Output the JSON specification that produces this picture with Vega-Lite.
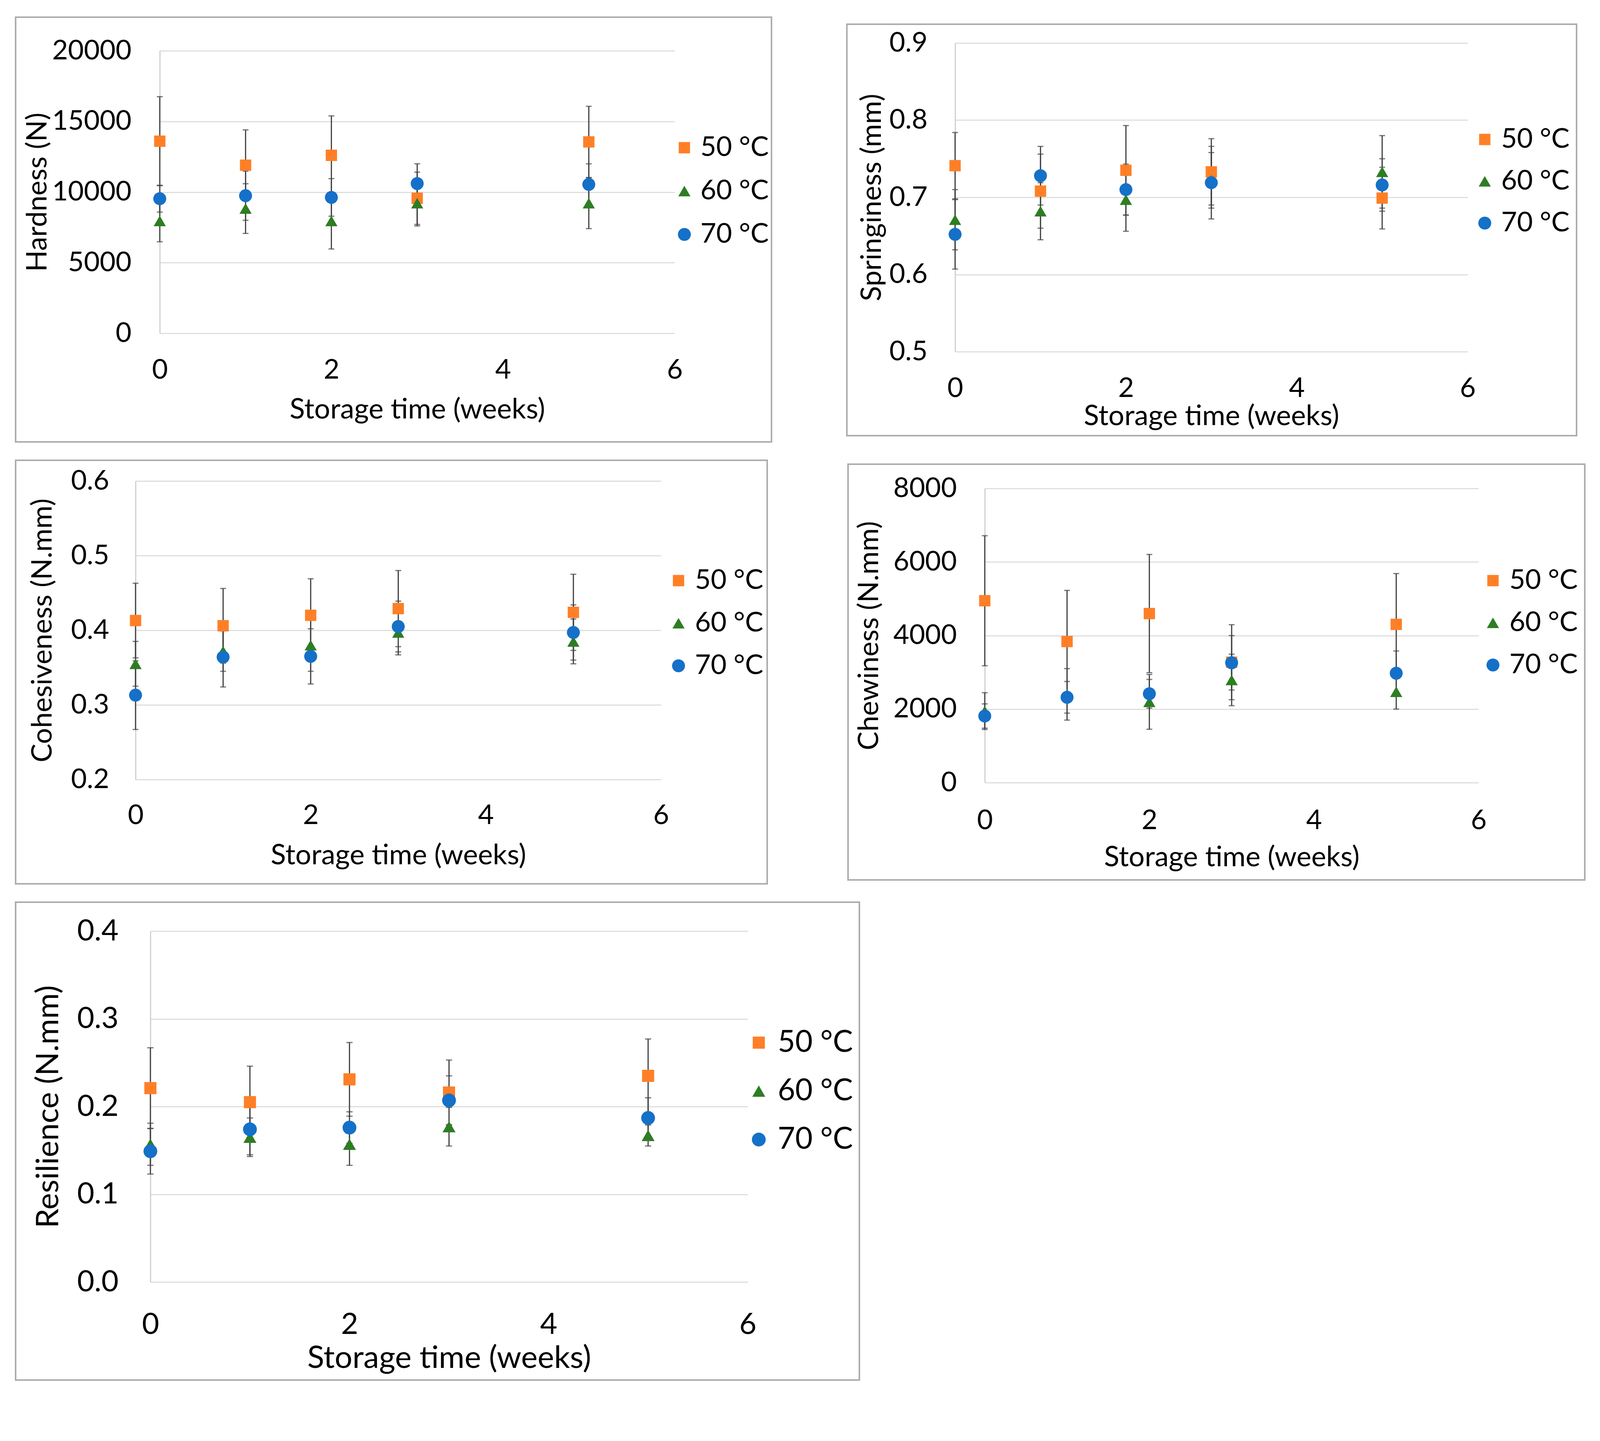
{
  "$schema": "https://vega.github.io/schema/vega-lite/v6.json",
  "background": "white",
  "padding": {"left": 38, "top": 42, "right": 0, "bottom": 0},
  "datasets": {
    "d": [
      {"panel": "H", "week": 0, "temp": "50 °C", "value": 13600, "err": 3150},
      {"panel": "H", "week": 1, "temp": "50 °C", "value": 11900, "err": 2500},
      {"panel": "H", "week": 2, "temp": "50 °C", "value": 12600, "err": 2790},
      {"panel": "H", "week": 3, "temp": "50 °C", "value": 9560, "err": 1850},
      {"panel": "H", "week": 5, "temp": "50 °C", "value": 13550, "err": 2520},
      {"panel": "H", "week": 0, "temp": "60 °C", "value": 7950, "err": 1470},
      {"panel": "H", "week": 1, "temp": "60 °C", "value": 8830, "err": 1760},
      {"panel": "H", "week": 2, "temp": "60 °C", "value": 7950, "err": 1980},
      {"panel": "H", "week": 3, "temp": "60 °C", "value": 9210, "err": 1610},
      {"panel": "H", "week": 5, "temp": "60 °C", "value": 9210, "err": 1800},
      {"panel": "H", "week": 0, "temp": "70 °C", "value": 9530, "err": 950},
      {"panel": "H", "week": 1, "temp": "70 °C", "value": 9740, "err": 1740},
      {"panel": "H", "week": 2, "temp": "70 °C", "value": 9620, "err": 1330},
      {"panel": "H", "week": 3, "temp": "70 °C", "value": 10600, "err": 1400},
      {"panel": "H", "week": 5, "temp": "70 °C", "value": 10540, "err": 1460},

      {"panel": "S", "week": 0, "temp": "50 °C", "value": 0.741, "err": 0.043},
      {"panel": "S", "week": 1, "temp": "50 °C", "value": 0.708, "err": 0.048},
      {"panel": "S", "week": 2, "temp": "50 °C", "value": 0.735, "err": 0.058},
      {"panel": "S", "week": 3, "temp": "50 °C", "value": 0.733, "err": 0.043},
      {"panel": "S", "week": 5, "temp": "50 °C", "value": 0.699, "err": 0.040},
      {"panel": "S", "week": 0, "temp": "60 °C", "value": 0.671, "err": 0.039},
      {"panel": "S", "week": 1, "temp": "60 °C", "value": 0.682, "err": 0.037},
      {"panel": "S", "week": 2, "temp": "60 °C", "value": 0.697, "err": 0.041},
      {"panel": "S", "week": 3, "temp": "60 °C", "value": 0.722, "err": 0.036},
      {"panel": "S", "week": 5, "temp": "60 °C", "value": 0.733, "err": 0.047},
      {"panel": "S", "week": 0, "temp": "70 °C", "value": 0.652, "err": 0.045},
      {"panel": "S", "week": 1, "temp": "70 °C", "value": 0.728, "err": 0.038},
      {"panel": "S", "week": 2, "temp": "70 °C", "value": 0.710, "err": 0.033},
      {"panel": "S", "week": 3, "temp": "70 °C", "value": 0.719, "err": 0.047},
      {"panel": "S", "week": 5, "temp": "70 °C", "value": 0.716, "err": 0.034},

      {"panel": "C", "week": 0, "temp": "50 °C", "value": 0.413, "err": 0.050},
      {"panel": "C", "week": 1, "temp": "50 °C", "value": 0.406, "err": 0.050},
      {"panel": "C", "week": 2, "temp": "50 °C", "value": 0.420, "err": 0.049},
      {"panel": "C", "week": 3, "temp": "50 °C", "value": 0.429, "err": 0.051},
      {"panel": "C", "week": 5, "temp": "50 °C", "value": 0.424, "err": 0.051},
      {"panel": "C", "week": 0, "temp": "60 °C", "value": 0.355, "err": 0.030},
      {"panel": "C", "week": 1, "temp": "60 °C", "value": 0.372, "err": 0.027},
      {"panel": "C", "week": 2, "temp": "60 °C", "value": 0.380, "err": 0.035},
      {"panel": "C", "week": 3, "temp": "60 °C", "value": 0.397, "err": 0.030},
      {"panel": "C", "week": 5, "temp": "60 °C", "value": 0.385, "err": 0.030},
      {"panel": "C", "week": 0, "temp": "70 °C", "value": 0.313, "err": 0.046},
      {"panel": "C", "week": 1, "temp": "70 °C", "value": 0.364, "err": 0.040},
      {"panel": "C", "week": 2, "temp": "70 °C", "value": 0.365, "err": 0.037},
      {"panel": "C", "week": 3, "temp": "70 °C", "value": 0.405, "err": 0.034},
      {"panel": "C", "week": 5, "temp": "70 °C", "value": 0.397, "err": 0.037},

      {"panel": "W", "week": 0, "temp": "50 °C", "value": 4946, "err": 1768},
      {"panel": "W", "week": 1, "temp": "50 °C", "value": 3837, "err": 1390},
      {"panel": "W", "week": 2, "temp": "50 °C", "value": 4597, "err": 1607},
      {"panel": "W", "week": 3, "temp": "50 °C", "value": 3274, "err": 1020},
      {"panel": "W", "week": 5, "temp": "50 °C", "value": 4303, "err": 1382},
      {"panel": "W", "week": 0, "temp": "60 °C", "value": 1945, "err": 500},
      {"panel": "W", "week": 1, "temp": "60 °C", "value": 2400, "err": 700},
      {"panel": "W", "week": 2, "temp": "60 °C", "value": 2197, "err": 745},
      {"panel": "W", "week": 3, "temp": "60 °C", "value": 2792, "err": 700},
      {"panel": "W", "week": 5, "temp": "60 °C", "value": 2470, "err": 470},
      {"panel": "W", "week": 0, "temp": "70 °C", "value": 1811, "err": 330},
      {"panel": "W", "week": 1, "temp": "70 °C", "value": 2320, "err": 430},
      {"panel": "W", "week": 2, "temp": "70 °C", "value": 2416, "err": 390},
      {"panel": "W", "week": 3, "temp": "70 °C", "value": 3258, "err": 740},
      {"panel": "W", "week": 5, "temp": "70 °C", "value": 2974, "err": 605},

      {"panel": "R", "week": 0, "temp": "50 °C", "value": 0.221, "err": 0.046},
      {"panel": "R", "week": 1, "temp": "50 °C", "value": 0.205, "err": 0.041},
      {"panel": "R", "week": 2, "temp": "50 °C", "value": 0.231, "err": 0.042},
      {"panel": "R", "week": 3, "temp": "50 °C", "value": 0.216, "err": 0.037},
      {"panel": "R", "week": 5, "temp": "50 °C", "value": 0.235, "err": 0.042},
      {"panel": "R", "week": 0, "temp": "60 °C", "value": 0.157, "err": 0.024},
      {"panel": "R", "week": 1, "temp": "60 °C", "value": 0.165, "err": 0.022},
      {"panel": "R", "week": 2, "temp": "60 °C", "value": 0.157, "err": 0.024},
      {"panel": "R", "week": 3, "temp": "60 °C", "value": 0.177, "err": 0.022},
      {"panel": "R", "week": 5, "temp": "60 °C", "value": 0.167, "err": 0.012},
      {"panel": "R", "week": 0, "temp": "70 °C", "value": 0.149, "err": 0.026},
      {"panel": "R", "week": 1, "temp": "70 °C", "value": 0.174, "err": 0.029},
      {"panel": "R", "week": 2, "temp": "70 °C", "value": 0.176, "err": 0.018},
      {"panel": "R", "week": 3, "temp": "70 °C", "value": 0.207, "err": 0.028},
      {"panel": "R", "week": 5, "temp": "70 °C", "value": 0.187, "err": 0.023}
    ],
    "weeksGrid": [{"g": 0}, {"g": 2}, {"g": 4}, {"g": 6}]
  },
  "bounds": "full",
  "spacing": 43,
  "resolve": {"scale": {"color": "independent", "shape": "independent", "size": "independent"}, "legend": {"color": "independent", "shape": "independent", "size": "independent"}},
  "vconcat": [
    {
      "bounds": "flush",
      "spacing": 193,
      "resolve": {"scale": {"color": "independent", "shape": "independent", "size": "independent"}, "legend": {"color": "independent", "shape": "independent", "size": "independent"}},
      "hconcat": [
        {
          "width": 1935, "height": 1087,
          "encoding": {
            "x": {"field": "week", "type": "quantitative",
              "scale": {"domain": [0, 6], "range": [369, 1687], "nice": false, "zero": false},
              "axis": {"title": "Storage time (weeks)", "values": [0, 2, 4, 6], "grid": false, "domain": false, "labelPadding": -218, "titleY": -61, "titleBaseline": "alphabetic"}},
            "y": {"field": "value", "type": "quantitative",
              "scale": {"domain": [0, 20000], "range": [809, 86], "nice": false, "zero": false},
              "axis": {"title": "Hardness (N)", "values": [0, 5000, 10000, 15000, 20000], "format": "d", "offset": -369, "labelPadding": 73, "titleX": -291, "titleBaseline": "alphabetic"}}
          },
          "layer": [
            {"data": {"name": "weeksGrid"}, "mark": {"type": "rule", "color": "#D9D9D9", "strokeWidth": 2.5},
              "encoding": {
                "x": {"field": "g", "type": "quantitative", "scale": {"domain": [0, 6], "range": [369, 1687], "nice": false, "zero": false}},
                "y": {"datum": 0, "type": "quantitative", "scale": {"domain": [0, 20000], "range": [809, 86], "nice": false, "zero": false}},
                "y2": {"datum": 20000}}},
            {"data": {"name": "d"}, "transform": [{"filter": "datum.panel === 'H'"}],
              "mark": {"type": "errorbar", "ticks": {"size": 15}, "thickness": 3, "color": "#404040"}, "encoding": {"yError": {"field": "err"}}},
            {"data": {"name": "d"}, "transform": [{"filter": "datum.panel === 'H'"}],
              "mark": {"type": "point", "filled": true, "opacity": 1},
              "encoding": {
                "color": {"field": "temp", "type": "nominal", "scale": {"domain": ["50 °C", "60 °C", "70 °C"], "range": ["#FF7F27", "#2E7D23", "#1570C8"]},
                  "legend": {"title": null, "orient": "none", "legendX": 1677, "legendY": 299, "labelFontSize": 70, "rowPadding": 41, "labelOffset": 6, "padding": 0}},
                "shape": {"field": "temp", "type": "nominal", "scale": {"domain": ["50 °C", "60 °C", "70 °C"], "range": ["square", "triangle-up", "circle"]},
                  "legend": {"title": null, "orient": "none", "legendX": 1677, "legendY": 299, "labelFontSize": 70, "rowPadding": 41, "labelOffset": 6, "padding": 0}},
                "size": {"field": "temp", "type": "nominal", "scale": {"domain": ["50 °C", "60 °C", "70 °C"], "range": [841, 1100, 900]},
                  "legend": {"title": null, "orient": "none", "legendX": 1677, "legendY": 299, "labelFontSize": 70, "rowPadding": 41, "labelOffset": 6, "padding": 0}}
              }}
          ]
        },
        {
          "bounds": "flush",
          "spacing": 0,
          "resolve": {"scale": {"color": "independent", "shape": "independent", "size": "independent"}, "legend": {"color": "independent", "shape": "independent", "size": "independent"}},
          "vconcat": [
            {"width": 1868, "height": 18, "data": {"values": []}, "mark": {"type": "point", "opacity": 0}, "view": {"stroke": null}},
            {
              "width": 1868, "height": 1053,
              "encoding": {
                "x": {"field": "week", "type": "quantitative",
                  "scale": {"domain": [0, 6], "range": [277, 1589], "nice": false, "zero": false},
                  "axis": {"title": "Storage time (weeks)", "values": [0, 2, 4, 6], "grid": false, "domain": false, "labelPadding": -155, "titleY": -28, "titleBaseline": "alphabetic"}},
                "y": {"field": "value", "type": "quantitative",
                  "scale": {"domain": [0.5, 0.9], "range": [838, 48], "nice": false, "zero": false},
                  "axis": {"title": "Springiness (mm)", "values": [0.5, 0.6, 0.7, 0.8, 0.9], "format": ".1f", "offset": -277, "labelPadding": 71, "titleX": -191, "titleBaseline": "alphabetic"}}
              },
              "layer": [
                {"data": {"name": "weeksGrid"}, "mark": {"type": "rule", "color": "#D9D9D9", "strokeWidth": 2.5},
                  "encoding": {
                    "x": {"field": "g", "type": "quantitative", "scale": {"domain": [0, 6], "range": [277, 1589], "nice": false, "zero": false}},
                    "y": {"datum": 0.5, "type": "quantitative", "scale": {"domain": [0.5, 0.9], "range": [838, 48], "nice": false, "zero": false}},
                    "y2": {"datum": 0.9}}},
                {"data": {"name": "d"}, "transform": [{"filter": "datum.panel === 'S'"}],
                  "mark": {"type": "errorbar", "ticks": {"size": 15}, "thickness": 3, "color": "#404040"}, "encoding": {"yError": {"field": "err"}}},
                {"data": {"name": "d"}, "transform": [{"filter": "datum.panel === 'S'"}],
                  "mark": {"type": "point", "filled": true, "opacity": 1},
                  "encoding": {
                    "color": {"field": "temp", "type": "nominal", "scale": {"domain": ["50 °C", "60 °C", "70 °C"], "range": ["#FF7F27", "#2E7D23", "#1570C8"]},
                      "legend": {"title": null, "orient": "none", "legendX": 1598, "legendY": 260, "labelFontSize": 70, "rowPadding": 37, "labelOffset": 7, "padding": 0}},
                    "shape": {"field": "temp", "type": "nominal", "scale": {"domain": ["50 °C", "60 °C", "70 °C"], "range": ["square", "triangle-up", "circle"]},
                      "legend": {"title": null, "orient": "none", "legendX": 1598, "legendY": 260, "labelFontSize": 70, "rowPadding": 37, "labelOffset": 7, "padding": 0}},
                    "size": {"field": "temp", "type": "nominal", "scale": {"domain": ["50 °C", "60 °C", "70 °C"], "range": [841, 1100, 900]},
                      "legend": {"title": null, "orient": "none", "legendX": 1598, "legendY": 260, "labelFontSize": 70, "rowPadding": 37, "labelOffset": 7, "padding": 0}}
                  }}
              ]
            }
          ]
        }
      ]
    },
    {
      "bounds": "flush",
      "spacing": 207,
      "resolve": {"scale": {"color": "independent", "shape": "independent", "size": "independent"}, "legend": {"color": "independent", "shape": "independent", "size": "independent"}},
      "hconcat": [
        {
          "width": 1924, "height": 1084,
          "encoding": {
            "x": {"field": "week", "type": "quantitative",
              "scale": {"domain": [0, 6], "range": [307, 1652], "nice": false, "zero": false},
              "axis": {"title": "Storage time (weeks)", "values": [0, 2, 4, 6], "grid": false, "domain": false, "labelPadding": -209, "titleY": -51, "titleBaseline": "alphabetic"}},
            "y": {"field": "value", "type": "quantitative",
              "scale": {"domain": [0.2, 0.6], "range": [817, 53], "nice": false, "zero": false},
              "axis": {"title": "Cohesiveness (N.mm)", "values": [0.2, 0.3, 0.4, 0.5, 0.6], "format": ".1f", "offset": -307, "labelPadding": 68, "titleX": -216, "titleBaseline": "alphabetic"}}
          },
          "layer": [
            {"data": {"name": "weeksGrid"}, "mark": {"type": "rule", "color": "#D9D9D9", "strokeWidth": 2.5},
              "encoding": {
                "x": {"field": "g", "type": "quantitative", "scale": {"domain": [0, 6], "range": [307, 1652], "nice": false, "zero": false}},
                "y": {"datum": 0.2, "type": "quantitative", "scale": {"domain": [0.2, 0.6], "range": [817, 53], "nice": false, "zero": false}},
                "y2": {"datum": 0.6}}},
            {"data": {"name": "d"}, "transform": [{"filter": "datum.panel === 'C'"}],
              "mark": {"type": "errorbar", "ticks": {"size": 15}, "thickness": 3, "color": "#404040"}, "encoding": {"yError": {"field": "err"}}},
            {"data": {"name": "d"}, "transform": [{"filter": "datum.panel === 'C'"}],
              "mark": {"type": "point", "filled": true, "opacity": 1},
              "encoding": {
                "color": {"field": "temp", "type": "nominal", "scale": {"domain": ["50 °C", "60 °C", "70 °C"], "range": ["#FF7F27", "#2E7D23", "#1570C8"]},
                  "legend": {"title": null, "orient": "none", "legendX": 1662, "legendY": 273, "labelFontSize": 70, "rowPadding": 39, "labelOffset": 7, "padding": 0}},
                "shape": {"field": "temp", "type": "nominal", "scale": {"domain": ["50 °C", "60 °C", "70 °C"], "range": ["square", "triangle-up", "circle"]},
                  "legend": {"title": null, "orient": "none", "legendX": 1662, "legendY": 273, "labelFontSize": 70, "rowPadding": 39, "labelOffset": 7, "padding": 0}},
                "size": {"field": "temp", "type": "nominal", "scale": {"domain": ["50 °C", "60 °C", "70 °C"], "range": [841, 1100, 900]},
                  "legend": {"title": null, "orient": "none", "legendX": 1662, "legendY": 273, "labelFontSize": 70, "rowPadding": 39, "labelOffset": 7, "padding": 0}}
              }}
          ]
        },
        {
          "bounds": "flush",
          "spacing": 0,
          "resolve": {"scale": {"color": "independent", "shape": "independent", "size": "independent"}, "legend": {"color": "independent", "shape": "independent", "size": "independent"}},
          "vconcat": [
            {"width": 1886, "height": 10, "data": {"values": []}, "mark": {"type": "point", "opacity": 0}, "view": {"stroke": null}},
            {
              "width": 1886, "height": 1064,
              "encoding": {
                "x": {"field": "week", "type": "quantitative",
                  "scale": {"domain": [0, 6], "range": [350, 1614], "nice": false, "zero": false},
                  "axis": {"title": "Storage time (weeks)", "values": [0, 2, 4, 6], "grid": false, "domain": false, "labelPadding": -186, "titleY": -36, "titleBaseline": "alphabetic"}},
                "y": {"field": "value", "type": "quantitative",
                  "scale": {"domain": [0, 8000], "range": [815, 62], "nice": false, "zero": false},
                  "axis": {"title": "Chewiness (N.mm)", "values": [0, 2000, 4000, 6000, 8000], "format": "d", "offset": -350, "labelPadding": 72, "titleX": -274, "titleBaseline": "alphabetic"}}
              },
              "layer": [
                {"data": {"name": "weeksGrid"}, "mark": {"type": "rule", "color": "#D9D9D9", "strokeWidth": 2.5},
                  "encoding": {
                    "x": {"field": "g", "type": "quantitative", "scale": {"domain": [0, 6], "range": [350, 1614], "nice": false, "zero": false}},
                    "y": {"datum": 0, "type": "quantitative", "scale": {"domain": [0, 8000], "range": [815, 62], "nice": false, "zero": false}},
                    "y2": {"datum": 8000}}},
                {"data": {"name": "d"}, "transform": [{"filter": "datum.panel === 'W'"}],
                  "mark": {"type": "errorbar", "ticks": {"size": 15}, "thickness": 3, "color": "#404040"}, "encoding": {"yError": {"field": "err"}}},
                {"data": {"name": "d"}, "transform": [{"filter": "datum.panel === 'W'"}],
                  "mark": {"type": "point", "filled": true, "opacity": 1},
                  "encoding": {
                    "color": {"field": "temp", "type": "nominal", "scale": {"domain": ["50 °C", "60 °C", "70 °C"], "range": ["#FF7F27", "#2E7D23", "#1570C8"]},
                      "legend": {"title": null, "orient": "none", "legendX": 1616, "legendY": 263, "labelFontSize": 70, "rowPadding": 38, "labelOffset": 7, "padding": 0}},
                    "shape": {"field": "temp", "type": "nominal", "scale": {"domain": ["50 °C", "60 °C", "70 °C"], "range": ["square", "triangle-up", "circle"]},
                      "legend": {"title": null, "orient": "none", "legendX": 1616, "legendY": 263, "labelFontSize": 70, "rowPadding": 38, "labelOffset": 7, "padding": 0}},
                    "size": {"field": "temp", "type": "nominal", "scale": {"domain": ["50 °C", "60 °C", "70 °C"], "range": [841, 1100, 900]},
                      "legend": {"title": null, "orient": "none", "legendX": 1616, "legendY": 263, "labelFontSize": 70, "rowPadding": 38, "labelOffset": 7, "padding": 0}}
                  }}
              ]
            }
          ]
        }
      ]
    },
    {
      "width": 2160, "height": 1223,
      "encoding": {
        "x": {"field": "week", "type": "quantitative",
          "scale": {"domain": [0, 6], "range": [345, 1874], "nice": false, "zero": false},
          "axis": {"title": "Storage time (weeks)", "values": [0, 2, 4, 6], "grid": false, "domain": false, "labelPadding": -179, "titleY": -32, "titleBaseline": "alphabetic", "labelFontSize": 76, "titleFontSize": 80}},
        "y": {"field": "value", "type": "quantitative",
          "scale": {"domain": [0, 0.4], "range": [972, 74], "nice": false, "zero": false},
          "axis": {"title": "Resilience (N.mm)", "values": [0, 0.1, 0.2, 0.3, 0.4], "format": ".1f", "offset": -345, "labelPadding": 82, "titleX": -237, "titleBaseline": "alphabetic", "labelFontSize": 76, "titleFontSize": 80}}
      },
      "layer": [
        {"data": {"name": "weeksGrid"}, "mark": {"type": "rule", "color": "#D9D9D9", "strokeWidth": 2.5},
          "encoding": {
            "x": {"field": "g", "type": "quantitative", "scale": {"domain": [0, 6], "range": [345, 1874], "nice": false, "zero": false}},
            "y": {"datum": 0, "type": "quantitative", "scale": {"domain": [0, 0.4], "range": [972, 74], "nice": false, "zero": false}},
            "y2": {"datum": 0.4}}},
        {"data": {"name": "d"}, "transform": [{"filter": "datum.panel === 'R'"}],
          "mark": {"type": "errorbar", "ticks": {"size": 16}, "thickness": 3, "color": "#404040"}, "encoding": {"yError": {"field": "err"}}},
        {"data": {"name": "d"}, "transform": [{"filter": "datum.panel === 'R'"}],
          "mark": {"type": "point", "filled": true, "opacity": 1},
          "encoding": {
            "color": {"field": "temp", "type": "nominal", "scale": {"domain": ["50 °C", "60 °C", "70 °C"], "range": ["#FF7F27", "#2E7D23", "#1570C8"]},
              "legend": {"title": null, "orient": "none", "legendX": 1864, "legendY": 321, "labelFontSize": 77, "rowPadding": 46, "labelOffset": 10, "padding": 0}},
            "shape": {"field": "temp", "type": "nominal", "scale": {"domain": ["50 °C", "60 °C", "70 °C"], "range": ["square", "triangle-up", "circle"]},
              "legend": {"title": null, "orient": "none", "legendX": 1864, "legendY": 321, "labelFontSize": 77, "rowPadding": 46, "labelOffset": 10, "padding": 0}},
            "size": {"field": "temp", "type": "nominal", "scale": {"domain": ["50 °C", "60 °C", "70 °C"], "range": [961, 1250, 1000]},
              "legend": {"title": null, "orient": "none", "legendX": 1864, "legendY": 321, "labelFontSize": 77, "rowPadding": 46, "labelOffset": 10, "padding": 0}}
          }}
      ]
    }
  ],
  "config": {
    "font": "Lato",
    "view": {"stroke": "#ADADAD", "strokeWidth": 4},
    "axis": {
      "labelFont": "Lato", "titleFont": "Lato", "labelFontSize": 70, "titleFontSize": 72,
      "titleFontWeight": "normal", "labelColor": "#000000", "titleColor": "#000000",
      "ticks": false, "tickSize": 0, "domainColor": "#D0D0D0", "domainWidth": 3,
      "grid": true, "gridColor": "#D9D9D9", "gridWidth": 2.5,
      "labelFlush": false, "labelOverlap": false, "labelBound": false, "labelLimit": 0
    },
    "legend": {
      "labelFont": "Lato", "labelColor": "#000000", "symbolStrokeWidth": 0, "symbolOpacity": 1,
      "labelLimit": 0
    }
  }
}
